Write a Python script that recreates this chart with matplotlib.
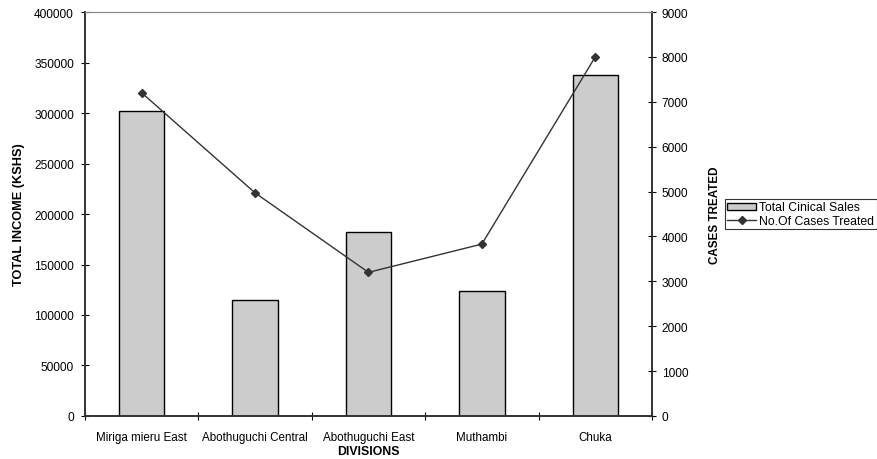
import numpy as np
import matplotlib.pyplot as plt
from matplotlib.lines import Line2D
from matplotlib.patches import Patch

plt.rcParams['font.family'] = ['Liberation Sans', 'DejaVu Sans']

divisions = ['Miriga mieru East', 'Abothuguchi Central', 'Abothuguchi East',
             'Muthambi', 'Chuka']
sales = [302000, 115000, 182000, 124000, 337500]
cases = [7200, 4970, 3200, 3830, 8000]

fig = plt.figure(figsize=(8.77, 4.60), dpi=100)
ax = fig.add_axes([0.0969, 0.0935, 0.6465, 0.8782])
ax2 = ax.twinx()

x = np.arange(len(divisions))
ax.bar(x, sales, 0.4, color='#cccccc', edgecolor='black', linewidth=1.0, zorder=2)
ax2.plot(x, cases, color='#333333', linewidth=1.0, marker='D', markersize=4.5,
         markerfacecolor='#333333', markeredgecolor='#333333', zorder=3)

ax.set_xlim(-0.5, len(divisions) - 0.5)
ax.set_ylim(0, 400000)
ax.set_yticks(np.arange(0, 400001, 50000))
ax2.set_ylim(0, 9000)
ax2.set_yticks(np.arange(0, 9001, 1000))

ax.set_xticks(x)
ax.set_xticklabels(divisions, fontsize=8.4)
ax.set_xticks(np.arange(-0.5, len(divisions)), minor=True)
ax.tick_params(axis='x', which='major', length=0, pad=11)
ax.tick_params(axis='x', which='minor', direction='inout', length=6, width=0.8)
ax.tick_params(axis='y', direction='inout', length=6, width=0.8, labelsize=8.6, pad=5)
ax2.tick_params(axis='y', direction='inout', length=6, width=0.8, labelsize=8.6, pad=4)

for a in (ax, ax2):
    a.spines['top'].set_color('#888888')
    a.spines['top'].set_linewidth(0.8)
    a.spines['left'].set_color('#333333')
    a.spines['right'].set_color('#333333')
    a.spines['bottom'].set_color('#333333')
    a.spines['left'].set_linewidth(1.2)
    a.spines['right'].set_linewidth(1.2)
    a.spines['bottom'].set_linewidth(1.2)

ax.set_xlabel('DIVISIONS', fontsize=8.8, fontweight='bold')
ax.xaxis.set_label_coords(0.5, -0.072)
ax.set_ylabel('TOTAL INCOME (KSHS)', fontsize=9.2, fontweight='bold')
ax.yaxis.set_label_coords(-0.105, 0.5)
ax2.set_ylabel('CASES TREATED', fontsize=8.4, fontweight='bold')
ax2.yaxis.set_label_coords(1.1, 0.5)

handles = [Patch(facecolor='#cccccc', edgecolor='black', linewidth=1.0),
           Line2D([0], [0], color='#333333', linewidth=1.0, marker='D', markersize=4,
                  markerfacecolor='#333333')]
leg = fig.legend(handles, ['Total Cinical Sales', 'No.Of Cases Treated'],
                 loc='upper left', bbox_to_anchor=(725 / 877, 1 - 200 / 460),
                 fontsize=8.8, frameon=True, fancybox=False, borderpad=0.2,
                 handlelength=2.3, handleheight=0.5, handletextpad=0.3,
                 labelspacing=0.1, borderaxespad=0)
leg.get_frame().set_edgecolor('black')
leg.get_frame().set_linewidth(0.8)

fig.savefig('out.png', dpi=100)
